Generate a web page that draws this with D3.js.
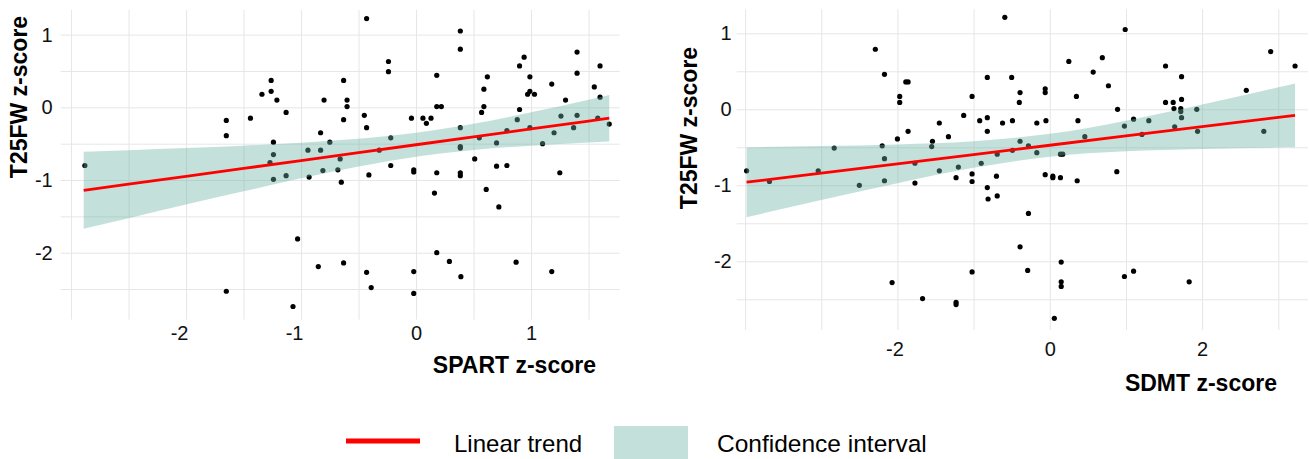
<!DOCTYPE html>
<html>
<head>
<meta charset="utf-8">
<style>
body { margin: 0; background: #fff; }
text { font-family: "Liberation Sans", Arial, Helvetica, sans-serif; }
</style>
</head>
<body>
<svg id="chart" width="1309" height="459"></svg>
<script src="https://d3js.org/d3.v7.min.js"></script>
<script>
// left panel: SPART vs T25FW
var spartX = [-2.88, -1.65, -1.65, -1.44, -1.34, -1.26, -1.26, -1.21, -1.13, -1.24, -1.24, -1.27, -1.24, -1.13, -0.94,
    -0.93, -0.83, -0.83, -0.80, -0.81, -0.75, -0.43, 0.385, 0.385, -0.24, -0.24, -0.63, -0.60, -0.60, -0.63,
    -0.66, -0.68, -0.65, -0.45, -0.43, -0.22, -0.32, -0.22, -0.41, -0.04, 0.06, 0.13, 0.09, 0.18, 0.18,
    0.22, -0.02, -0.02, 0.18, 0.16, 0.385, 0.385, 0.385, 0.385, 0.385, 0.51, 0.55, 0.57, 0.59, 0.59,
    0.62, 0.61, 0.70, 0.70, 0.79, 0.79, 0.88, 0.90, 0.90, 0.94, 0.99, 0.99, 0.97, 1.03, 0.99,
    1.10, 1.18, 1.26, 1.20, 1.25, 1.30, 1.37, 1.40, 1.40, 1.40, 1.55, 1.60, 1.60, 1.58, 1.68,
    -1.03, -0.85, -1.65, -1.07, 0.72, -0.63, -0.43, -0.39, -0.02, -0.02, 0.18, 0.29, 0.39, 0.87, 1.18];
var spartY = [-0.80, -0.18, -0.39, -0.15, 0.18, 0.37, 0.22, 0.10, -0.07, -0.48, -0.65, -0.76, -0.99, -0.94, -0.59,
    -0.96, -0.59, -0.35, 0.10, -0.87, -0.48, 1.22, 1.05, 0.80, 0.63, 0.49, 0.37, 0.10, 0.01, -0.17,
    -0.71, -0.86, -1.03, -0.11, -0.28, -0.42, -0.59, -0.80, -0.93, -0.15, -0.15, -0.15, -0.22, 0.44, 0.01,
    0.01, -0.86, -0.89, -0.90, -1.18, -0.28, -0.54, -0.56, -0.90, -0.94, -0.71, -0.42, -0.07, 0.01, 0.25,
    0.42, -1.13, -0.49, -0.81, -0.32, -0.80, -0.17, -0.03, 0.57, 0.69, 0.42, 0.22, 0.18, 0.18, -0.28,
    -0.50, 0.32, -0.12, -0.35, -0.90, 0.10, -0.28, -0.11, 0.47, 0.76, 0.28, 0.14, 0.57, -0.15, -0.23,
    -1.81, -2.19, -2.53, -2.74, -1.37, -2.14, -2.27, -2.48, -2.26, -2.56, -2.00, -2.12, -2.33, -2.13, -2.26];
var spartFitX = [-2.89, -2.5, -2, -1.5, -1, -0.5, 0, 0.5, 1, 1.5, 1.68];
var spartFitY = [-1.142, -1.058, -0.949, -0.841, -0.732, -0.624, -0.515, -0.407, -0.298, -0.190, -0.150];
var spartLo = [-1.672, -1.526, -1.338, -1.155, -0.977, -0.814, -0.679, -0.587, -0.527, -0.484, -0.470];
var spartHi = [-0.612, -0.590, -0.560, -0.527, -0.487, -0.434, -0.351, -0.227, -0.069, 0.104, 0.170];

// right panel: SDMT vs T25FW
var sdmtX = [-3.98, -3.68, -3.04, -2.83, -2.50, -2.29, -2.17, -2.20, -2.17, -2.17, -1.97, -1.97, -2.00, -1.89, -1.86,
    -1.86, -1.77, -1.77, -1.55, -1.54, -1.45, -1.45, -1.33, -1.23, -1.20, -1.13, -1.02, -1.02, -1.02, -0.90,
    -0.92, -0.82, -0.82, -0.82, -0.82, -0.59, 0.99, 0.25, 0.69, 0.57, 0.77, 0.35, 0.89, -0.50, -0.39,
    -0.40, -0.06, -0.06, -0.62, -0.49, -0.17, -0.05, 0.37, -0.39, -0.28, -0.49, -0.17, 0.14, 0.17, -0.69,
    0.46, 0.98, 1.10, 1.21, 1.30, 1.52, 1.52, 1.62, 1.63, 1.64, 1.73, 1.73, 1.72, 1.72, 1.73,
    1.93, 1.94, 2.58, 2.81, 2.90, 3.22, 0.88, -0.70, -0.69, -0.81, -0.06, 0.04, 0.04, 0.14, 0.36,
    -2.07, -1.67, -1.23, -1.23, -1.02, -0.28, -0.39, -0.29, 0.15, 0.15, 0.15, 0.06, 0.98, 1.10, 1.83];
var sdmtY = [-0.81, -0.95, -0.81, -0.51, -1.00, 0.79, 0.46, -0.48, -0.65, -0.94, 0.17, 0.09, -0.39, 0.36, 0.36,
    -0.29, -0.71, -0.97, -0.49, -0.42, -0.18, -0.81, -0.36, -0.90, -0.76, -0.08, 0.17, -0.85, -0.95, -0.71,
    -0.15, 0.42, -0.11, -0.29, -1.03, 1.21, 1.05, 0.63, 0.68, 0.49, 0.31, 0.17, 0.00, 0.42, 0.22,
    0.09, 0.27, 0.22, -0.18, -0.15, -0.18, -0.15, -0.15, -0.42, -0.48, -0.54, -0.57, -0.59, -0.59, -0.59,
    -0.36, -0.22, -0.13, -0.33, -0.15, 0.57, 0.09, 0.09, 0.01, -0.23, 0.43, 0.13, 0.01, -0.03, -0.11,
    0.00, -0.29, 0.25, -0.29, 0.76, 0.57, -0.82, -0.88, -1.14, -1.18, -0.86, -0.88, -0.90, -0.90, -0.94,
    -2.28, -2.49, -2.54, -2.57, -2.14, -1.37, -1.81, -2.12, -2.01, -2.27, -2.33, -2.75, -2.20, -2.13, -2.27];
var sdmtFitX = [-3.98, -3, -2, -1, 0, 1, 2, 3, 3.22];
var sdmtFitY = [-0.959, -0.839, -0.717, -0.595, -0.473, -0.351, -0.229, -0.107, -0.080];
var sdmtLo = [-1.419, -1.195, -0.972, -0.770, -0.623, -0.553, -0.522, -0.503, -0.500];
var sdmtHi = [-0.499, -0.483, -0.462, -0.420, -0.323, -0.149, 0.064, 0.289, 0.340];

// tick labels and grid breaks
var spartTicks = [-2, -1, 0, 1];
var spartGrid = [-3, -2.5, -2, -1.5, -1, -0.5, 0, 0.5, 1, 1.5];
var sdmtTicks = [-2, 0, 2];
var sdmtGrid = [-4, -3, -2, -1, 0, 1, 2, 3];
var yTicks = [-2, -1, 0, 1];
var yGrid = [-2.5, -2, -1.5, -1, -0.5, 0, 0.5, 1];

var svg = d3.select("#chart");
var gridColor = "#e6e6e6";
var ribbonFill = "#69b3a2";

function drawPanel(p) {
    var x = d3.scaleLinear().domain(p.xDomain).range([p.left, p.right]);
    var y = d3.scaleLinear().domain(p.yDomain).range([p.bottom, p.top]);
    var g = svg.append("g");

    // grid lines
    var gx = g.append("g")
        .attr("transform", "translate(0," + p.bottom + ")")
        .call(d3.axisBottom(x).tickValues(p.xGrid).tickSize(-(p.bottom - p.top)).tickFormat(""));
    var gy = g.append("g")
        .attr("transform", "translate(" + p.left + ",0)")
        .call(d3.axisLeft(y).tickValues(yGrid).tickSize(-(p.right - p.left)).tickFormat(""));
    [gx, gy].forEach(function (a) {
        a.select(".domain").remove();
        a.selectAll("line").attr("stroke", gridColor).attr("stroke-width", 1);
    });

    // tick labels
    var lx = g.append("g")
        .attr("transform", "translate(0," + p.bottom + ")")
        .call(d3.axisBottom(x).tickValues(p.xTicks).tickSize(0).tickPadding(p.xPad)
            .tickFormat(function (d) { return String(d); }));
    var ly = g.append("g")
        .attr("transform", "translate(" + p.left + ",0)")
        .call(d3.axisLeft(y).tickValues(yTicks).tickSize(0).tickPadding(p.yPad)
            .tickFormat(function (d) { return String(d); }));
    [lx, ly].forEach(function (a) {
        a.select(".domain").remove();
        a.attr("font-family", null).attr("font-size", null);
        a.selectAll("text").style("font-size", "20px").attr("fill", "#111");
    });
    // negative x labels sit a bit left of their break in the original
    lx.selectAll("text").attr("dx", function (d) { return d < 0 ? p.negShift : 0; });

    // points
    g.append("g").selectAll("circle")
        .data(p.px.map(function (v, i) { return [v, p.py[i]]; }))
        .enter().append("circle")
        .attr("cx", function (d) { return x(d[0]); })
        .attr("cy", function (d) { return y(d[1]); })
        .attr("r", 2.6)
        .attr("fill", "#000");

    // confidence band, drawn over the points
    var band = p.fx.map(function (v, i) { return { x: v, lo: p.lo[i], hi: p.hi[i], fit: p.fy[i] }; });
    g.append("path")
        .datum(band)
        .attr("d", d3.area()
            .x(function (d) { return x(d.x); })
            .y0(function (d) { return y(d.lo); })
            .y1(function (d) { return y(d.hi); })
            .curve(d3.curveMonotoneX))
        .attr("fill", ribbonFill)
        .attr("fill-opacity", 0.4);

    g.append("path")
        .datum(band)
        .attr("d", d3.line()
            .x(function (d) { return x(d.x); })
            .y(function (d) { return y(d.fit); }))
        .attr("fill", "none")
        .attr("stroke", "red")
        .attr("stroke-width", 2.8);

    // axis titles
    g.append("text")
        .attr("x", p.xTitleX).attr("y", p.xTitleY)
        .attr("text-anchor", "end")
        .style("font-size", "23px").style("font-weight", "bold")
        .text(p.xTitle);
    g.append("text")
        .attr("transform", "translate(" + p.yTitleX + "," + p.yTitleY + ") rotate(-90)")
        .attr("text-anchor", "middle")
        .style("font-size", "23px").style("font-weight", "bold")
        .text("T25FW z-score");
}

drawPanel({
    px: spartX, py: spartY, fx: spartFitX, fy: spartFitY, lo: spartLo, hi: spartHi,
    xDomain: [-3.09, 1.77], yDomain: [-2.92, 1.34],
    left: 60.7, right: 619.6, top: 9.9, bottom: 319.6,
    xGrid: spartGrid, xTicks: spartTicks, xPad: 6, yPad: 8, negShift: -7,
    xTitle: "SPART z-score", xTitleX: 596, xTitleY: 373,
    yTitleX: 27, yTitleY: 97
});

drawPanel({
    px: sdmtX, py: sdmtY, fx: sdmtFitX, fy: sdmtFitY, lo: sdmtLo, hi: sdmtHi,
    xDomain: [-4.11, 3.39], yDomain: [-2.904, 1.316],
    left: 736.7, right: 1308, top: 9.3, bottom: 330,
    xGrid: sdmtGrid, xTicks: sdmtTicks, xPad: 12, yPad: 5, negShift: -3,
    xTitle: "SDMT z-score", xTitleX: 1277, xTitleY: 391,
    yTitleX: 697, yTitleY: 128
});

// legend
var legend = svg.append("g");
legend.append("line")
    .attr("x1", 346).attr("x2", 420).attr("y1", 441).attr("y2", 441)
    .attr("stroke", "red").attr("stroke-width", 5);
legend.append("text")
    .attr("x", 454).attr("y", 452)
    .style("font-size", "24px")
    .text("Linear trend");
legend.append("rect")
    .attr("x", 614).attr("y", 426).attr("width", 74).attr("height", 40)
    .attr("fill", ribbonFill).attr("fill-opacity", 0.4);
legend.append("text")
    .attr("x", 717).attr("y", 452)
    .style("font-size", "24.5px")
    .text("Confidence interval");
</script>
</body>
</html>
